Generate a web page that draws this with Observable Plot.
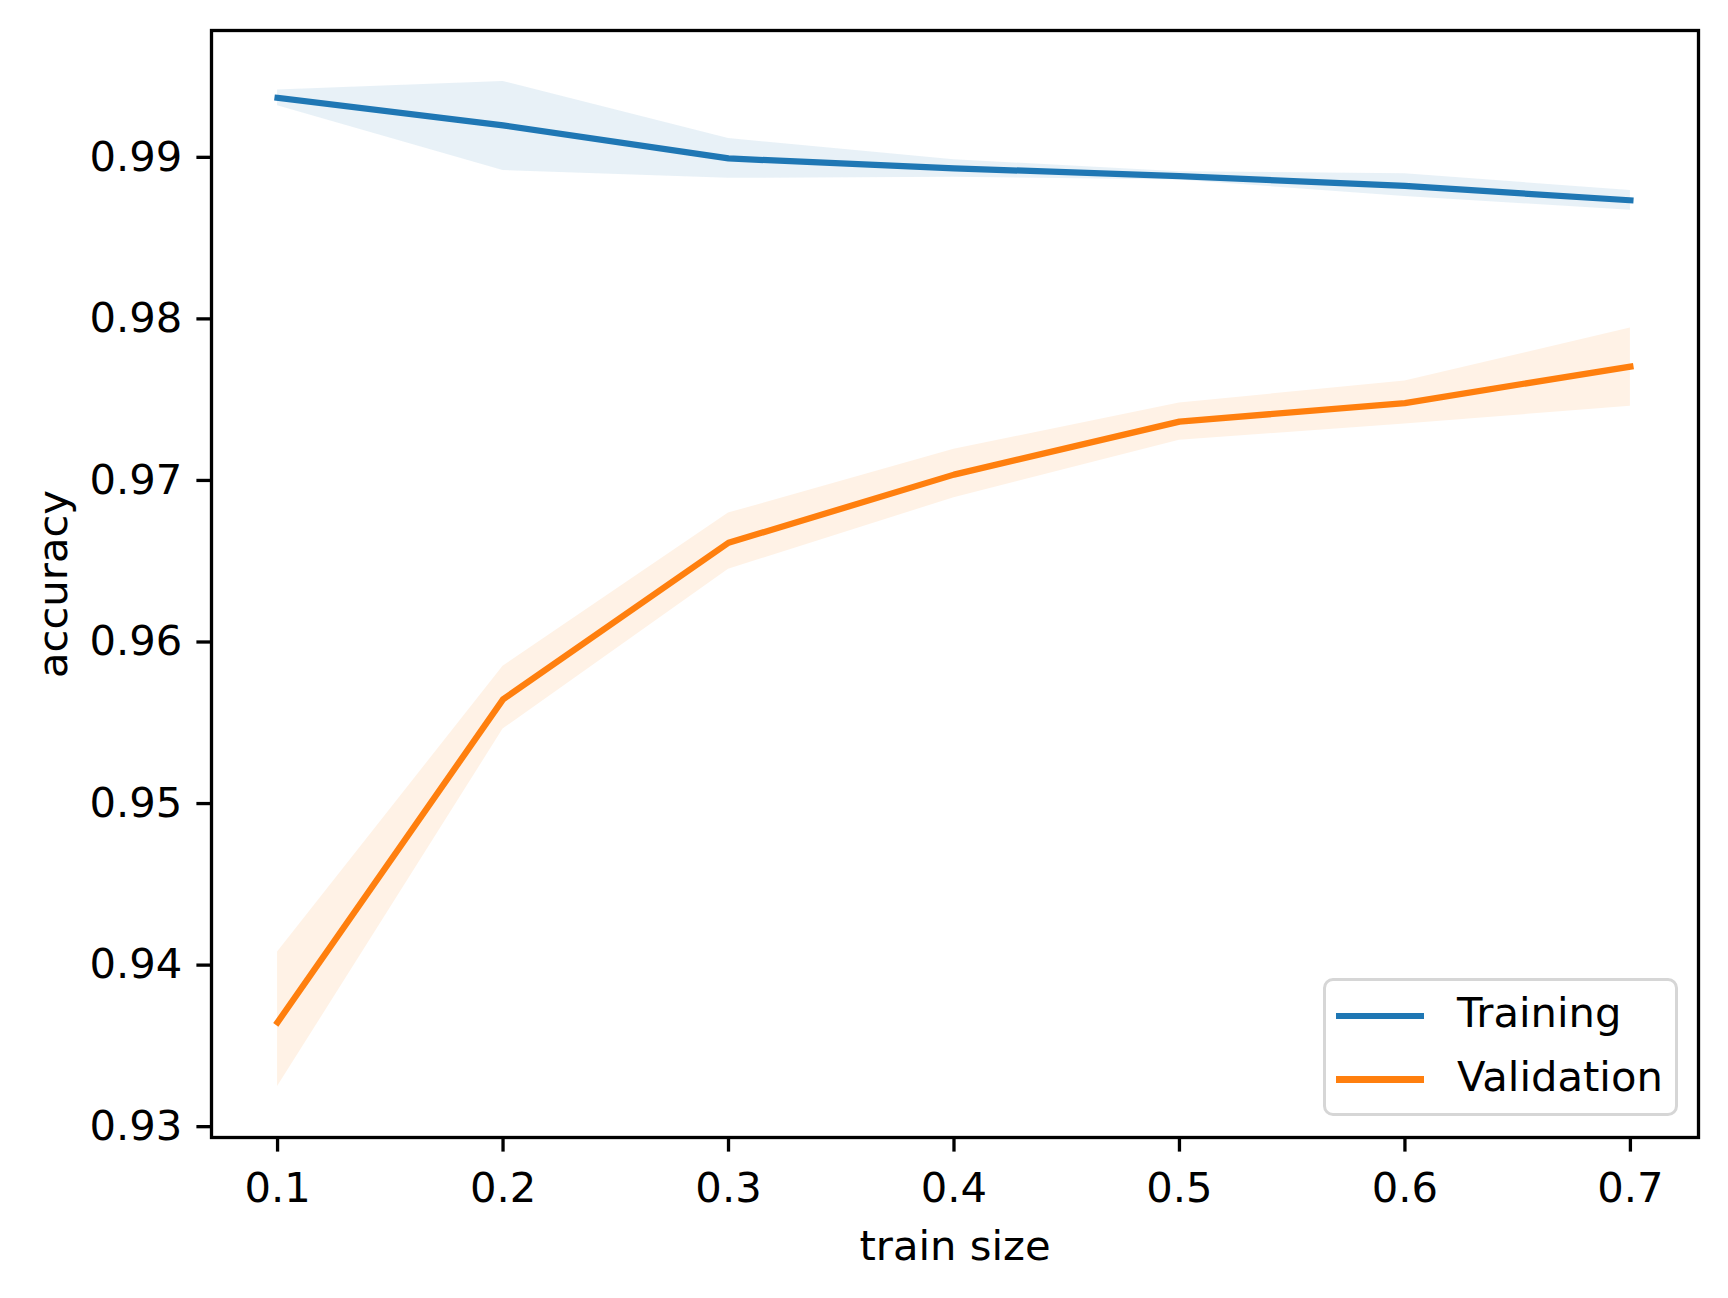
<!DOCTYPE html>
<html>
<head>
<meta charset="utf-8">
<script src="https://cdn.jsdelivr.net/npm/d3@7"></script>
<script src="https://cdn.jsdelivr.net/npm/@observablehq/plot@0.6"></script>
<style>
  html, body { margin: 0; padding: 0; background: #fff; }
  #wrap { position: relative; width: 1728px; height: 1298px; font-family: "DejaVu Sans", sans-serif; }
  #legend { position: absolute; left: 1323px; top: 978px; width: 355px; height: 138px;
    border: 3.3px solid #d6d6d6; border-radius: 10px; background: rgba(255,255,255,0.8); box-sizing: border-box; }
  .item { position: absolute; left: 0; font-size: 41.7px; color: #000; }
  .swatch { position: absolute; left: 10px; width: 88px; height: 6.25px; }
  .lab { position: absolute; left: 131px; white-space: nowrap; line-height: 1; }
</style>
</head>
<body>
<div id="wrap">
  <div id="chart"></div>
  <div id="legend"></div>
</div>
<script>
const trainSizes = [0.1, 0.2, 0.3, 0.4, 0.5, 0.6, 0.7];
const trainMean  = [0.99368, 0.99198, 0.98993, 0.98932, 0.98884, 0.98823, 0.98734];
const trainUpper = [0.99416, 0.99470, 0.99116, 0.98985, 0.98911, 0.98898, 0.98795];
const trainLower = [0.99320, 0.98918, 0.98870, 0.98877, 0.98860, 0.98757, 0.98673];
const valMean    = [0.93646, 0.95645, 0.96614, 0.97036, 0.97364, 0.97479, 0.97705];
const valUpper   = [0.94081, 0.95850, 0.96798, 0.97193, 0.97479, 0.97616, 0.97943];
const valLower   = [0.93248, 0.95461, 0.96450, 0.96893, 0.97248, 0.97350, 0.97459];
const xTicks = [0.1, 0.2, 0.3, 0.4, 0.5, 0.6, 0.7];
const yTicks = [0.93, 0.94, 0.95, 0.96, 0.97, 0.98, 0.99];
const seriesNames = ["Training", "Validation"];
const seriesColors = ["#1f77b4", "#ff7f0e"];
const xLabel = "train size";
const yLabel = "accuracy";

const train = trainSizes.map((x, i) => ({x, mean: trainMean[i], lo: trainLower[i], hi: trainUpper[i]}));
const val = trainSizes.map((x, i) => ({x, mean: valMean[i], lo: valLower[i], hi: valUpper[i]}));

const FS = 41.7;
const chart = Plot.plot({
  width: 1728,
  height: 1298,
  marginLeft: 211,
  marginRight: 30,
  marginTop: 30,
  marginBottom: 161,
  style: {fontFamily: "DejaVu Sans", fontSize: FS + "px", background: "#fff", color: "#000"},
  x: {domain: [0.0707, 0.7302]},
  y: {domain: [0.92933, 0.99785]},
  marks: [
    Plot.areaY(train, {x: "x", y1: "lo", y2: "hi", fill: seriesColors[0], fillOpacity: 0.1}),
    Plot.areaY(val, {x: "x", y1: "lo", y2: "hi", fill: seriesColors[1], fillOpacity: 0.1}),
    Plot.lineY(train, {x: "x", y: "mean", stroke: seriesColors[0], strokeWidth: 6.25, strokeLinecap: "square", strokeLinejoin: "round"}),
    Plot.lineY(val, {x: "x", y: "mean", stroke: seriesColors[1], strokeWidth: 6.25, strokeLinecap: "square", strokeLinejoin: "round"}),
    Plot.frame({stroke: "#000", strokeWidth: 3.3}),
    Plot.axisX({ticks: xTicks, tickFormat: d3.format(".1f"), tickSize: 14.6, tickPadding: 20, strokeWidth: 3.3, fontSize: FS, label: null}),
    Plot.axisY({ticks: yTicks, tickFormat: d3.format(".2f"), tickSize: 14.6, tickPadding: 14.6, strokeWidth: 3.3, fontSize: FS, label: null}),
    Plot.text([xLabel], {frameAnchor: "bottom", dy: 109, text: d => d, fontSize: FS, lineAnchor: "middle", fill: "#000"}),
    Plot.text([yLabel], {frameAnchor: "left", dx: -158, text: d => d, fontSize: FS, rotate: -90, lineAnchor: "middle", textAnchor: "middle", fill: "#000"})
  ]
});
document.getElementById("chart").appendChild(chart);

const legend = document.getElementById("legend");
seriesNames.forEach((name, i) => {
  const cy = i === 0 ? 35 : 98.5;
  const sw = document.createElement("div");
  sw.className = "swatch";
  sw.style.top = (cy - 3.1) + "px";
  sw.style.background = seriesColors[i];
  legend.appendChild(sw);
  const t = document.createElement("div");
  t.className = "item lab";
  t.style.top = (cy - 24) + "px";
  t.textContent = name;
  legend.appendChild(t);
});
</script>
</body>
</html>
